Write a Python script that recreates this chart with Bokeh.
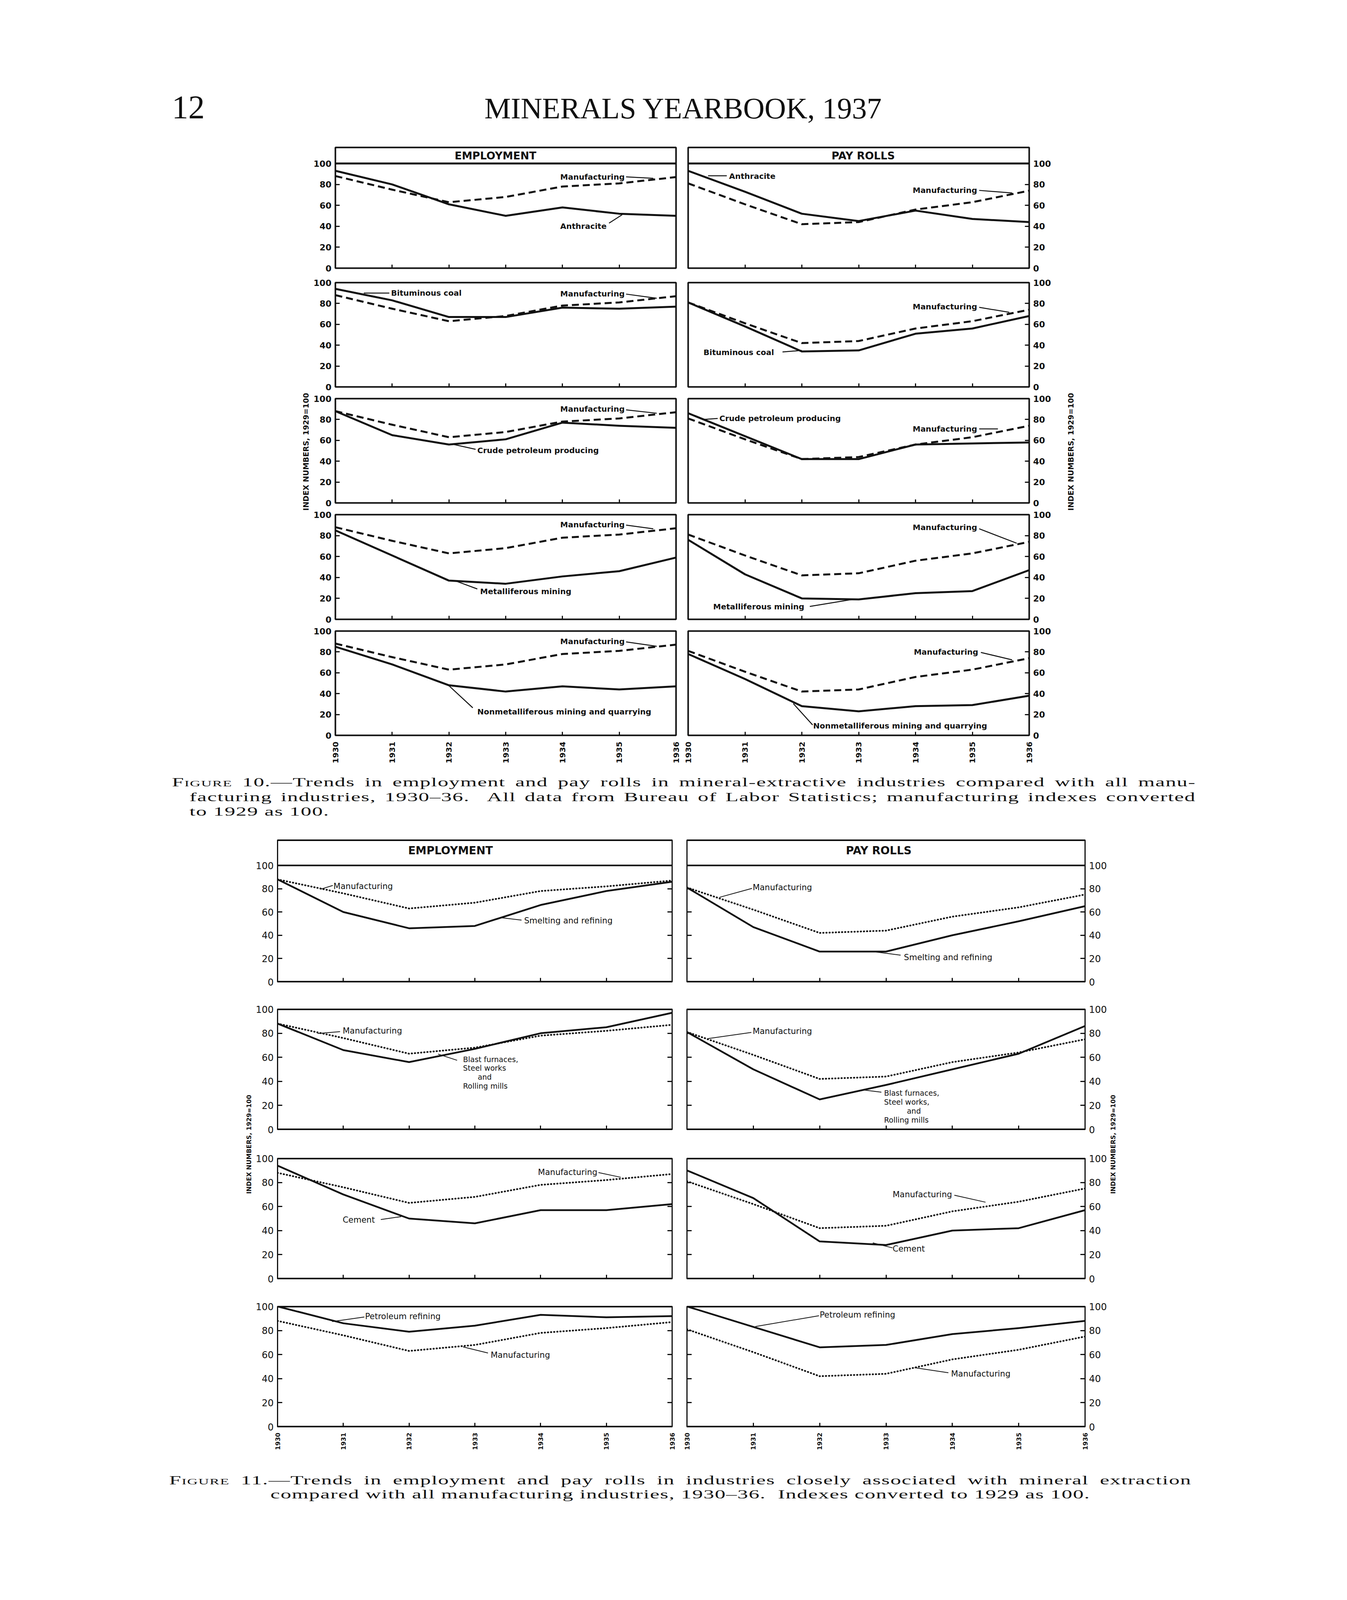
import math
from bokeh.plotting import figure
from bokeh.models import Range1d, FixedTicker, LinearAxis, Span, Spacer, Div, ColumnDataSource
from bokeh.layouts import row, column
from bokeh.core.properties import value
from bokeh.embed import file_html
from bokeh.resources import INLINE

# ---------------------------------------------------------------- data
YEARS = [1930, 1931, 1932, 1933, 1934, 1935, 1936]
Y_TICKS = [0, 20, 40, 60, 80, 100]

# Figure 10 (index numbers, 1929 = 100)
MFG_EMP_10 = [88, 75, 63, 68, 78, 81, 87]
MFG_PAY_10 = [81, 61, 42, 44, 56, 63, 74]
ANTHRACITE_EMP = [93, 80, 61, 50, 58, 52, 50]
ANTHRACITE_PAY = [93, 73, 52, 45, 55, 47, 44]
BITUMINOUS_EMP = [94, 83, 67, 67, 76, 75, 77]
BITUMINOUS_PAY = [81, 58, 34, 35, 51, 56, 68]
CRUDE_EMP = [88, 65, 56, 61, 77, 74, 72]
CRUDE_PAY = [86, 64, 42, 42, 56, 57, 58]
METAL_EMP = [85, 61, 37, 34, 41, 46, 59]
METAL_PAY = [76, 43, 20, 19, 25, 27, 47]
NONMETAL_EMP = [85, 68, 48, 42, 47, 44, 47]
NONMETAL_PAY = [78, 54, 28, 23, 28, 29, 38]

# Figure 11
MFG_EMP_11 = [88, 76, 63, 68, 78, 82, 87]
MFG_PAY_11 = [81, 62, 42, 44, 56, 64, 75]
SMELT_EMP = [88, 60, 46, 48, 66, 78, 86]
SMELT_PAY = [81, 47, 26, 26, 40, 52, 65]
BLAST_EMP = [88, 66, 56, 67, 80, 85, 97]
BLAST_PAY = [81, 50, 25, 37, 50, 63, 86]
CEMENT_EMP = [94, 70, 50, 46, 57, 57, 62]
CEMENT_PAY = [90, 67, 31, 28, 40, 42, 57]
PETRO_EMP = [100, 86, 79, 84, 93, 91, 92]
PETRO_PAY = [100, 83, 66, 68, 77, 82, 88]

INDEX_LABEL = "INDEX NUMBERS, 1929=100"

# ---------------------------------------------------------------- annotation layout
PANELS_10 = [
    [dict(ind=ANTHRACITE_EMP, mfg=MFG_EMP_10, title="EMPLOYMENT", title_x=1932.82,
          texts=[("Manufacturing", 1933.96, 87, "left"), ("Anthracite", 1933.96, 40, "left")],
          leaders=[(1935.12, 87.2, 1935.6, 85.8), (1934.82, 43, 1935.05, 51)]),
     dict(ind=ANTHRACITE_PAY, mfg=MFG_PAY_10, title="PAY ROLLS", title_x=1933.08,
          texts=[("Anthracite", 1930.72, 88, "left"), ("Manufacturing", 1933.95, 74.5, "left")],
          leaders=[(1930.35, 88.2, 1930.68, 88.2), (1935.12, 74.3, 1935.7, 71.8)])],
    [dict(ind=BITUMINOUS_EMP, mfg=MFG_EMP_10,
          texts=[("Bituminous coal", 1930.98, 90, "left"), ("Manufacturing", 1933.96, 89.5, "left")],
          leaders=[(1930.5, 90, 1930.95, 90), (1935.12, 89, 1935.66, 85)]),
     dict(ind=BITUMINOUS_PAY, mfg=MFG_PAY_10,
          texts=[("Manufacturing", 1933.95, 77, "left"), ("Bituminous coal", 1930.27, 33, "left")],
          leaders=[(1935.12, 76.3, 1935.65, 71.5), (1931.66, 33.5, 1932.0, 35)])],
    [dict(ind=CRUDE_EMP, mfg=MFG_EMP_10,
          texts=[("Manufacturing", 1933.96, 90, "left"), ("Crude petroleum producing", 1932.5, 50.5, "left")],
          leaders=[(1935.12, 89.2, 1935.66, 86), (1932.47, 51.4, 1932.09, 56)]),
     dict(ind=CRUDE_PAY, mfg=MFG_PAY_10,
          texts=[("Crude petroleum producing", 1930.55, 81, "left"), ("Manufacturing", 1933.95, 71, "left")],
          leaders=[(1930.25, 80, 1930.52, 81), (1935.12, 71, 1935.45, 71)])],
    [dict(ind=METAL_EMP, mfg=MFG_EMP_10,
          texts=[("Manufacturing", 1933.96, 90.6, "left"), ("Metalliferous mining", 1932.55, 26.6, "left")],
          leaders=[(1935.12, 90, 1935.6, 86.5), (1932.5, 29, 1932.13, 36.4)]),
     dict(ind=METAL_PAY, mfg=MFG_PAY_10,
          texts=[("Manufacturing", 1933.95, 88, "left"), ("Metalliferous mining", 1930.44, 12.3, "left")],
          leaders=[(1935.12, 86.5, 1935.78, 72.7), (1932.14, 12.3, 1932.89, 19)])],
    [dict(ind=NONMETAL_EMP, mfg=MFG_EMP_10,
          texts=[("Manufacturing", 1933.96, 90, "left"),
                 ("Nonmetalliferous mining and quarrying", 1932.5, 22.6, "left")],
          leaders=[(1935.12, 89.6, 1935.66, 85.4), (1932.42, 26.4, 1932.0, 47.6)]),
     dict(ind=NONMETAL_PAY, mfg=MFG_PAY_10,
          texts=[("Manufacturing", 1933.97, 80, "left"),
                 ("Nonmetalliferous mining and quarrying", 1932.2, 9, "left")],
          leaders=[(1935.15, 79.5, 1935.7, 72.4), (1932.19, 10, 1931.85, 30.5)])],
]

PANELS_11 = [
    [dict(ind=SMELT_EMP, mfg=MFG_EMP_11, title="EMPLOYMENT", title_x=1932.63,
          texts=[("Manufacturing", 1930.85, 82, "left"), ("Smelting and refining", 1933.75, 52.4, "left")],
          leaders=[(1930.84, 82.8, 1930.65, 79.5), (1933.71, 53, 1933.41, 55)]),
     dict(ind=SMELT_PAY, mfg=MFG_PAY_11, title="PAY ROLLS", title_x=1932.89,
          texts=[("Manufacturing", 1930.99, 81, "left"), ("Smelting and refining", 1933.27, 21, "left")],
          leaders=[(1930.98, 80.3, 1930.49, 72.6), (1933.22, 22.9, 1932.8, 26)])],
    [dict(ind=BLAST_EMP, mfg=MFG_EMP_11,
          texts=[("Manufacturing", 1930.99, 82, "left"), ("Blast furnaces,", 1932.82, 58.4, "left"),
                 ("Steel works", 1932.82, 51.0, "left"), ("and", 1933.15, 43.6, "center"),
                 ("Rolling mills", 1932.82, 36.2, "left")],
          leaders=[(1930.95, 81.3, 1930.61, 79.8), (1932.73, 57.5, 1932.44, 62.7)]),
     dict(ind=BLAST_PAY, mfg=MFG_PAY_11,
          texts=[("Manufacturing", 1930.99, 81.5, "left"), ("Blast furnaces,", 1932.97, 30.3, "left"),
                 ("Steel works,", 1932.97, 22.9, "left"), ("and", 1933.42, 15.5, "center"),
                 ("Rolling mills", 1932.97, 8.1, "left")],
          leaders=[(1930.97, 80.7, 1930.32, 75.6), (1932.93, 31, 1932.68, 32.7)])],
    [dict(ind=CEMENT_EMP, mfg=MFG_EMP_11,
          texts=[("Manufacturing", 1933.96, 88.6, "left"), ("Cement", 1930.99, 48.8, "left")],
          leaders=[(1934.88, 88.2, 1935.22, 84.3), (1931.57, 49.2, 1931.88, 51.6)]),
     dict(ind=CEMENT_PAY, mfg=MFG_PAY_11,
          texts=[("Manufacturing", 1933.1, 70, "left"), ("Cement", 1933.1, 24.8, "left")],
          leaders=[(1934.03, 69.4, 1934.5, 63.6), (1933.1, 25.6, 1932.8, 29.8)])],
    [dict(ind=PETRO_EMP, mfg=MFG_EMP_11,
          texts=[("Petroleum refining", 1931.33, 91.6, "left"), ("Manufacturing", 1933.24, 59.7, "left")],
          leaders=[(1931.32, 91.2, 1930.83, 87.4), (1933.2, 61.3, 1932.82, 66.4)]),
     dict(ind=PETRO_PAY, mfg=MFG_PAY_11,
          texts=[("Petroleum refining", 1932.0, 93, "left"), ("Manufacturing", 1933.98, 44, "left")],
          leaders=[(1931.99, 92.3, 1931.03, 83.3), (1933.94, 44.9, 1933.43, 49.1)])],
]

# ---------------------------------------------------------------- styles / geometry
# The photographed page is 4096 px tall: vertical positions of the 5445 px tall
# reference are compressed by K so that the whole page fits.
K = 4096 / 5445


def sy(v):
    return int(round(v * K))


INK = "#111111"
SANS = "DejaVu Sans"

STYLE_10 = dict(line_w=5, mfg_w=5, mfg_dash="18 10", mfg_cap="butt", outline=4, edge_span=0,
                label_size="20px", label_style="bold", tick_size="22px", tick_style="bold",
                tick_standoff=10, xlab_size="20px", xlab_style="bold", xlab_standoff=16,
                title_size="27px", leader_w=2.5, ytick_len=11, xtick_len=9, both_sides=False)
STYLE_11 = dict(line_w=4.5, mfg_w=4.5, mfg_dash="1 7", mfg_cap="round", outline=3, edge_span=5,
                label_size="21px", label_style="normal", tick_size="24px", tick_style="normal",
                tick_standoff=10, xlab_size="16px", xlab_style="bold", xlab_standoff=15,
                title_size="28px", leader_w=2, ytick_len=12, xtick_len=10, both_sides=True)

# rows: (frame top, 100-line, frame bottom) in reference pixels
GEOM_10 = dict(frame_w=(872, 873), bl=60, br=83, inner=15, gap=1, bt=15, bb=15, bb_last=76,
               rows=[(512, 566, 922), (972, 972, 1327), (1367, 1367, 1722), (1762, 1762, 2117),
                     (2157, 2157, 2512)],
               title_y=107.6, strip_left=(8, 806, 790), strip_right=(2725, 2785, 2748),
               index_y=sy(1548), index_size="19px")
GEOM_11 = dict(frame_w=(1011, 1020), bl=58, br=58, inner=15, gap=8, bt=18, bb=18, bb_last=64,
               rows=[(2869, 2955, 3351), (3444, 3444, 3854), (3952, 3952, 4362), (4456, 4456, 4866)],
               title_y=112.6, strip_left=(8, 659, 645), strip_right=(2844, 2884, 2857),
               index_y=sy(3904), index_size="16px")
SMALL_LABELS = {"Blast furnaces,", "Steel works", "Steel works,", "and", "Rolling mills"}


def style_axis(ax, ticks, size, fstyle, tick_len, standoff, show_labels, orientation=None):
    ax.ticker = FixedTicker(ticks=ticks)
    ax.axis_line_color = None
    ax.major_tick_in = tick_len
    ax.major_tick_out = 0
    ax.major_tick_line_width = 3
    ax.major_tick_line_color = INK
    ax.minor_tick_line_color = None
    ax.major_label_text_font = SANS
    ax.major_label_text_font_style = fstyle
    if show_labels:
        ax.major_label_text_color = INK
        ax.major_label_text_font_size = size
        ax.major_label_standoff = standoff
    else:
        # tick marks only: labels are not drawn at all
        ax.major_label_text_color = None
        ax.major_label_text_alpha = 0
        ax.major_label_text_font_size = "1px"
        ax.major_label_standoff = 0
    if orientation is not None:
        ax.major_label_orientation = orientation


def make_panel(spec, side, frame_w, frame_h, y_top, bt, bb, geom, st, show_x):
    if side == "left":
        bl, br = geom["bl"], geom["inner"]
    else:
        bl, br = geom["inner"], geom["br"]
    p = figure(width=bl + frame_w + br, height=bt + frame_h + bb,
               x_range=Range1d(1930, 1936), y_range=Range1d(0, y_top),
               y_axis_location=side, output_backend="svg", toolbar_location=None,
               min_border_left=bl, min_border_right=br, min_border_top=bt, min_border_bottom=bb,
               background_fill_color="white", border_fill_color="white",
               outline_line_color=INK, outline_line_width=st["outline"])
    p.xgrid.grid_line_color = None
    p.ygrid.grid_line_color = None

    style_axis(p.yaxis[0], Y_TICKS, st["tick_size"], st["tick_style"], st["ytick_len"],
               st["tick_standoff"], True)
    style_axis(p.xaxis[0], YEARS, st["xlab_size"], st["xlab_style"], st["xtick_len"],
               st["xlab_standoff"], show_x, math.pi / 2)
    if st["both_sides"]:
        extra = LinearAxis()
        style_axis(extra, Y_TICKS, "1px", "normal", st["ytick_len"], 0, False)
        p.add_layout(extra, "right" if side == "left" else "left")

    if y_top > 100:
        p.add_layout(Span(location=100, dimension="width", line_color=INK,
                          line_width=st["outline"] + 1))
    if st["edge_span"]:
        for loc in (0, y_top):
            p.add_layout(Span(location=loc, dimension="width", line_color=INK,
                              line_width=st["edge_span"]))

    p.line(YEARS, spec["ind"], line_color=INK, line_width=st["line_w"], line_join="round")
    p.line(YEARS, spec["mfg"], line_color=INK, line_width=st["mfg_w"], line_dash=st["mfg_dash"],
           line_cap=st["mfg_cap"], line_join="round")

    lead = spec["leaders"]
    p.segment(x0=[l[0] for l in lead], y0=[l[1] for l in lead],
              x1=[l[2] for l in lead], y1=[l[3] for l in lead],
              line_color=INK, line_width=st["leader_w"])

    for align in ("left", "center"):
        for small in (False, True):
            items = [t for t in spec["texts"]
                     if t[3] == align and ((t[0] in SMALL_LABELS) == small)]
            if not items:
                continue
            size = "19px" if small else st["label_size"]
            src = ColumnDataSource(dict(x=[t[1] for t in items], y=[t[2] for t in items],
                                        text=[t[0] for t in items]))
            p.text(x="x", y="y", text="text", source=src, text_align=align, text_baseline="middle",
                   text_font=value(SANS), text_font_size=size,
                   text_font_style=st["label_style"], text_color=INK)

    if spec.get("title"):
        p.text(x=[spec["title_x"]], y=[geom["title_y"]], text=[spec["title"]],
               text_align="center", text_baseline="middle", text_font=value(SANS),
               text_font_size=st["title_size"], text_font_style="bold", text_color=INK)
    return p


def make_strip(x0, x1, tx, top, bot, ty, size):
    s = figure(width=x1 - x0, height=bot - top, x_range=Range1d(x0, x1), y_range=Range1d(bot, top),
               x_axis_type=None, y_axis_type=None, output_backend="svg", toolbar_location=None,
               min_border_left=0, min_border_right=0, min_border_top=0, min_border_bottom=0,
               outline_line_color=None, background_fill_color="white", border_fill_color="white")
    s.text(x=[tx], y=[ty], text=[INDEX_LABEL], angle=math.pi / 2, text_align="center",
           text_baseline="middle", text_font=value(SANS), text_font_size=size,
           text_font_style="bold", text_color=INK)
    return s


def build_block(panels, geom, st):
    items = []
    prev_bottom = None
    n = len(geom["rows"])
    first_top = None
    for i, (top_r, l100_r, bot_r) in enumerate(geom["rows"]):
        top, bot, l100 = sy(top_r), sy(bot_r), sy(l100_r)
        y_top = 100.0 if l100 == top else 100.0 * (bot - top) / (bot - l100)
        last = i == n - 1
        bb = geom["bb_last"] if last else geom["bb"]
        c_top = top - geom["bt"]
        if first_top is None:
            first_top = c_top
        if prev_bottom is not None and c_top - prev_bottom > 0:
            items.append(Spacer(width=10, height=c_top - prev_bottom))
        left_spec, right_spec = panels[i]
        pl = make_panel(left_spec, "left", geom["frame_w"][0], bot - top, y_top, geom["bt"], bb,
                        geom, st, last)
        pr = make_panel(right_spec, "right", geom["frame_w"][1], bot - top, y_top, geom["bt"], bb,
                        geom, st, last)
        items.append(row(pl, Spacer(width=geom["gap"], height=10), pr))
        prev_bottom = max(bot + bb, c_top + geom["bt"] + (bot - top) + bb)
    sl = geom["strip_left"]
    sr = geom["strip_right"]
    left = make_strip(sl[0], sl[1], sl[2], first_top, prev_bottom, geom["index_y"], geom["index_size"])
    right = make_strip(sr[0], sr[1], sr[2], first_top, prev_bottom, geom["index_y"], geom["index_size"])
    return row(left, column(*items), right), first_top, prev_bottom


block10, top10, bottom10 = build_block(PANELS_10, GEOM_10, STYLE_10)
block11, top11, bottom11 = build_block(PANELS_11, GEOM_11, STYLE_11)

# ---------------------------------------------------------------- page texts
SERIF = "font-family:'Liberation Serif','DejaVu Serif',serif;color:#111111;"

header_h = top10 - 8
base = sy(414) - 8
header_html = (
    f'<div style="position:relative;width:3000px;height:{header_h}px;{SERIF}">'
    f'<div style="position:absolute;left:440px;top:{base - 70}px;font-size:84px;line-height:84px;'
    'white-space:nowrap;">12</div>'
    f'<div style="position:absolute;left:1240px;top:{base - 64}px;font-size:76px;line-height:76px;'
    'white-space:nowrap;">MINERALS YEARBOOK, 1937</div>'
    '</div>')

FS, LH, SX = 32, 37, 1.7
FIG = '<span style="font-variant:small-caps;">Figure</span>'


def cap_line(text, left, center, width=None, mode="left"):
    style = (f"position:absolute;left:{left}px;top:{center - LH / 2:.1f}px;white-space:nowrap;"
             f"line-height:{LH}px;font-size:{FS}px;letter-spacing:1px;"
             f"transform:scaleX({SX});transform-origin:0 0;")
    if width is not None:
        style += f"width:{width / SX:.1f}px;"
    if mode == "justify":
        style += "text-align:justify;text-align-last:justify;"
    elif mode == "center":
        style += "text-align:center;"
    return f'<div style="{style}">{text}</div>'


cap10_top = bottom10
cap10_h = top11 - bottom10
cap10_html = (
    f'<div style="position:relative;width:3100px;height:{cap10_h}px;{SERIF}">'
    + cap_line(f"{FIG} 10.—Trends in employment and pay rolls in mineral-extractive industries "
               "compared with all manu-", 440, sy(2672) - cap10_top, 2621, "justify")
    + cap_line("facturing industries, 1930–36. &nbsp;All data from Bureau of Labor Statistics; "
               "manufacturing indexes converted", 485, sy(2722) - cap10_top, 2576, "justify")
    + cap_line("to 1929 as 100.", 485, sy(2772) - cap10_top)
    + '</div>')

cap11_top = bottom11
cap11_h = 150
cap11_html = (
    f'<div style="position:relative;width:3100px;height:{cap11_h}px;{SERIF}">'
    + cap_line(f"{FIG} 11.—Trends in employment and pay rolls in industries closely associated "
               "with mineral extraction", 433, sy(5048) - cap11_top, 2617, "justify")
    + cap_line("compared with all manufacturing industries, 1930–36. &nbsp;Indexes converted to "
               "1929 as 100.", 433, sy(5096) - cap11_top, 2617, "center")
    + '</div>')

header = Div(text=header_html, width=3000, height=header_h, margin=(0, 0, 0, 0))
cap10 = Div(text=cap10_html, width=3100, height=cap10_h, margin=(0, 0, 0, 0))
cap11 = Div(text=cap11_html, width=3100, height=cap11_h, margin=(0, 0, 0, 0))

page = column(header, block10, cap10, block11, cap11)

open("out.html", "w").write(file_html(page, INLINE, "Minerals Yearbook, 1937"))
